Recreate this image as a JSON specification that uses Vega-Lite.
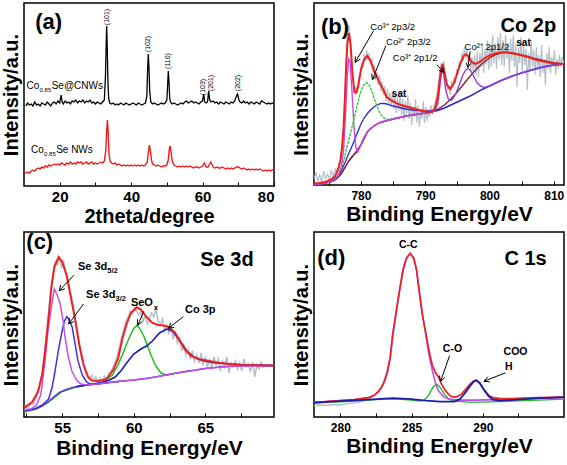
{
"$schema": "https://vega.github.io/schema/vega-lite/v6.json",
"padding": {"left": 0, "top": 2, "right": 0, "bottom": 0},
"columns": 2,
"spacing": {"row": 3, "column": 14},
"config": {
  "view": {"stroke": "#000", "strokeWidth": 1.5},
  "axis": {"grid": false, "domain": false, "tickColor": "#000", "labelColor": "#000", "titleColor": "#000", "labelFont": "Liberation Sans", "titleFont": "Liberation Sans", "labelFontWeight": "bold", "titleFontWeight": "bold", "titleFontSize": 20},
  "text": {"font": "Liberation Sans", "color": "#000"}
},
"datasets": {
"a": [
{"s":"k","x":10.5,"y":80},{"s":"k","x":11,"y":83},{"s":"k","x":11.5,"y":81},{"s":"k","x":12,"y":82},{"s":"k","x":12.5,"y":80},{"s":"k","x":13,"y":84},{"s":"k","x":13.5,"y":81},{"s":"k","x":14,"y":82},{"s":"k","x":14.5,"y":80},{"s":"k","x":15,"y":83},{"s":"k","x":15.5,"y":82},{"s":"k","x":16,"y":81},{"s":"k","x":16.5,"y":84},{"s":"k","x":17,"y":82},{"s":"k","x":17.5,"y":80},{"s":"k","x":18,"y":83},{"s":"k","x":18.5,"y":84},{"s":"k","x":19,"y":82},{"s":"k","x":19.5,"y":85},{"s":"k","x":20,"y":83},{"s":"k","x":20.4,"y":91},{"s":"k","x":20.7,"y":84},{"s":"k","x":21,"y":82},{"s":"k","x":21.5,"y":85},{"s":"k","x":22,"y":83},{"s":"k","x":22.5,"y":84},{"s":"k","x":23,"y":82},{"s":"k","x":23.5,"y":85},{"s":"k","x":24,"y":84},{"s":"k","x":24.5,"y":86},{"s":"k","x":25,"y":83},{"s":"k","x":25.5,"y":85},{"s":"k","x":26,"y":84},{"s":"k","x":26.5,"y":86},{"s":"k","x":27,"y":83},{"s":"k","x":27.5,"y":85},{"s":"k","x":28,"y":84},{"s":"k","x":28.5,"y":86},{"s":"k","x":29,"y":83},{"s":"k","x":29.5,"y":84},{"s":"k","x":30,"y":82},{"s":"k","x":30.5,"y":84},{"s":"k","x":31,"y":83},{"s":"k","x":31.5,"y":82},{"s":"k","x":32,"y":84},{"s":"k","x":32.5,"y":86},{"s":"k","x":32.8,"y":109},{"s":"k","x":33.0,"y":140},{"s":"k","x":33.15,"y":160},{"s":"k","x":33.3,"y":140},{"s":"k","x":33.5,"y":105},{"s":"k","x":33.7,"y":88},{"s":"k","x":34,"y":83},{"s":"k","x":34.5,"y":82},{"s":"k","x":35,"y":83},{"s":"k","x":35.5,"y":81},{"s":"k","x":36,"y":82},{"s":"k","x":36.5,"y":81},{"s":"k","x":37,"y":83},{"s":"k","x":37.5,"y":82},{"s":"k","x":38,"y":81},{"s":"k","x":38.5,"y":83},{"s":"k","x":39,"y":82},{"s":"k","x":39.5,"y":81},{"s":"k","x":40,"y":82},{"s":"k","x":40.5,"y":83},{"s":"k","x":41,"y":82},{"s":"k","x":41.5,"y":81},{"s":"k","x":42,"y":83},{"s":"k","x":42.5,"y":82},{"s":"k","x":43,"y":81},{"s":"k","x":43.5,"y":82},{"s":"k","x":44,"y":83},{"s":"k","x":44.4,"y":90},{"s":"k","x":44.6,"y":115},{"s":"k","x":44.8,"y":132},{"s":"k","x":45.0,"y":118},{"s":"k","x":45.2,"y":95},{"s":"k","x":45.5,"y":84},{"s":"k","x":46,"y":82},{"s":"k","x":46.5,"y":83},{"s":"k","x":47,"y":82},{"s":"k","x":47.5,"y":81},{"s":"k","x":48,"y":82},{"s":"k","x":48.5,"y":83},{"s":"k","x":49,"y":82},{"s":"k","x":49.5,"y":83},{"s":"k","x":50,"y":86},{"s":"k","x":50.2,"y":100},{"s":"k","x":50.4,"y":115},{"s":"k","x":50.6,"y":104},{"s":"k","x":50.8,"y":88},{"s":"k","x":51,"y":84},{"s":"k","x":51.5,"y":82},{"s":"k","x":52,"y":83},{"s":"k","x":52.5,"y":82},{"s":"k","x":53,"y":81},{"s":"k","x":53.5,"y":82},{"s":"k","x":54,"y":83},{"s":"k","x":54.5,"y":82},{"s":"k","x":55,"y":84},{"s":"k","x":55.5,"y":85},{"s":"k","x":56,"y":83},{"s":"k","x":56.5,"y":84},{"s":"k","x":57,"y":85},{"s":"k","x":57.5,"y":83},{"s":"k","x":58,"y":84},{"s":"k","x":58.5,"y":83},{"s":"k","x":59,"y":82},{"s":"k","x":59.5,"y":84},{"s":"k","x":60,"y":85},{"s":"k","x":60.3,"y":92},{"s":"k","x":60.6,"y":84},{"s":"k","x":61,"y":83},{"s":"k","x":61.4,"y":84},{"s":"k","x":61.7,"y":95},{"s":"k","x":62.0,"y":86},{"s":"k","x":62.4,"y":84},{"s":"k","x":63,"y":85},{"s":"k","x":63.5,"y":83},{"s":"k","x":64,"y":84},{"s":"k","x":64.5,"y":82},{"s":"k","x":65,"y":84},{"s":"k","x":65.5,"y":83},{"s":"k","x":66,"y":82},{"s":"k","x":66.5,"y":84},{"s":"k","x":67,"y":83},{"s":"k","x":67.5,"y":82},{"s":"k","x":68,"y":84},{"s":"k","x":68.5,"y":83},{"s":"k","x":69,"y":85},{"s":"k","x":69.5,"y":90},{"s":"k","x":69.8,"y":92},{"s":"k","x":70.2,"y":86},{"s":"k","x":70.5,"y":84},{"s":"k","x":71,"y":83},{"s":"k","x":71.5,"y":85},{"s":"k","x":72,"y":83},{"s":"k","x":72.5,"y":84},{"s":"k","x":73,"y":82},{"s":"k","x":73.5,"y":84},{"s":"k","x":74,"y":83},{"s":"k","x":74.5,"y":82},{"s":"k","x":75,"y":84},{"s":"k","x":75.5,"y":83},{"s":"k","x":76,"y":82},{"s":"k","x":76.5,"y":85},{"s":"k","x":77,"y":84},{"s":"k","x":77.5,"y":83},{"s":"k","x":78,"y":82},{"s":"k","x":78.5,"y":83},{"s":"k","x":79,"y":82},{"s":"k","x":79.5,"y":83},{"s":"k","x":80,"y":82},
{"s":"r","x":10,"y":12},{"s":"r","x":10.5,"y":13},{"s":"r","x":11,"y":14},{"s":"r","x":11.5,"y":13},{"s":"r","x":12,"y":15},{"s":"r","x":12.5,"y":16},{"s":"r","x":13,"y":15},{"s":"r","x":13.5,"y":17},{"s":"r","x":14,"y":18},{"s":"r","x":14.5,"y":17},{"s":"r","x":15,"y":19},{"s":"r","x":15.5,"y":18},{"s":"r","x":16,"y":20},{"s":"r","x":16.5,"y":19},{"s":"r","x":17,"y":21},{"s":"r","x":17.5,"y":20},{"s":"r","x":18,"y":21},{"s":"r","x":18.5,"y":22},{"s":"r","x":19,"y":21},{"s":"r","x":19.5,"y":22},{"s":"r","x":20,"y":21},{"s":"r","x":20.5,"y":23},{"s":"r","x":21,"y":22},{"s":"r","x":21.5,"y":21},{"s":"r","x":22,"y":23},{"s":"r","x":22.5,"y":22},{"s":"r","x":23,"y":24},{"s":"r","x":23.5,"y":22},{"s":"r","x":24,"y":23},{"s":"r","x":24.5,"y":22},{"s":"r","x":25,"y":24},{"s":"r","x":25.5,"y":23},{"s":"r","x":26,"y":24},{"s":"r","x":26.5,"y":22},{"s":"r","x":27,"y":23},{"s":"r","x":27.5,"y":24},{"s":"r","x":28,"y":22},{"s":"r","x":28.5,"y":23},{"s":"r","x":29,"y":24},{"s":"r","x":29.5,"y":22},{"s":"r","x":30,"y":23},{"s":"r","x":30.5,"y":22},{"s":"r","x":31,"y":23},{"s":"r","x":31.5,"y":24},{"s":"r","x":32,"y":23},{"s":"r","x":32.5,"y":25},{"s":"r","x":32.9,"y":35},{"s":"r","x":33.15,"y":55},{"s":"r","x":33.35,"y":66},{"s":"r","x":33.55,"y":55},{"s":"r","x":33.8,"y":32},{"s":"r","x":34.1,"y":25},{"s":"r","x":34.5,"y":23},{"s":"r","x":35,"y":22},{"s":"r","x":35.5,"y":23},{"s":"r","x":36,"y":21},{"s":"r","x":36.5,"y":22},{"s":"r","x":37,"y":21},{"s":"r","x":37.5,"y":20},{"s":"r","x":38,"y":21},{"s":"r","x":38.5,"y":20},{"s":"r","x":39,"y":21},{"s":"r","x":39.5,"y":20},{"s":"r","x":40,"y":21},{"s":"r","x":40.5,"y":20},{"s":"r","x":41,"y":21},{"s":"r","x":41.5,"y":20},{"s":"r","x":42,"y":21},{"s":"r","x":42.5,"y":20},{"s":"r","x":43,"y":21},{"s":"r","x":43.5,"y":20},{"s":"r","x":44,"y":21},{"s":"r","x":44.5,"y":24},{"s":"r","x":44.8,"y":33},{"s":"r","x":45.1,"y":41},{"s":"r","x":45.4,"y":35},{"s":"r","x":45.7,"y":26},{"s":"r","x":46,"y":22},{"s":"r","x":46.5,"y":21},{"s":"r","x":47,"y":20},{"s":"r","x":47.5,"y":21},{"s":"r","x":48,"y":20},{"s":"r","x":48.5,"y":19},{"s":"r","x":49,"y":20},{"s":"r","x":49.5,"y":20},{"s":"r","x":50,"y":21},{"s":"r","x":50.4,"y":26},{"s":"r","x":50.7,"y":37},{"s":"r","x":50.95,"y":40},{"s":"r","x":51.2,"y":33},{"s":"r","x":51.5,"y":25},{"s":"r","x":52,"y":21},{"s":"r","x":52.5,"y":20},{"s":"r","x":53,"y":19},{"s":"r","x":53.5,"y":20},{"s":"r","x":54,"y":19},{"s":"r","x":54.5,"y":20},{"s":"r","x":55,"y":19},{"s":"r","x":55.5,"y":20},{"s":"r","x":56,"y":19},{"s":"r","x":56.5,"y":20},{"s":"r","x":57,"y":19},{"s":"r","x":57.5,"y":18},{"s":"r","x":58,"y":19},{"s":"r","x":58.5,"y":19},{"s":"r","x":59,"y":18},{"s":"r","x":59.5,"y":19},{"s":"r","x":60,"y":20},{"s":"r","x":60.5,"y":23},{"s":"r","x":61,"y":19},{"s":"r","x":61.5,"y":19},{"s":"r","x":62,"y":22},{"s":"r","x":62.3,"y":24},{"s":"r","x":62.7,"y":21},{"s":"r","x":63,"y":19},{"s":"r","x":63.5,"y":18},{"s":"r","x":64,"y":19},{"s":"r","x":64.5,"y":18},{"s":"r","x":65,"y":18},{"s":"r","x":65.5,"y":19},{"s":"r","x":66,"y":18},{"s":"r","x":66.5,"y":17},{"s":"r","x":67,"y":18},{"s":"r","x":67.5,"y":17},{"s":"r","x":68,"y":18},{"s":"r","x":68.5,"y":17},{"s":"r","x":69,"y":18},{"s":"r","x":69.5,"y":19},{"s":"r","x":70,"y":19},{"s":"r","x":70.5,"y":18},{"s":"r","x":71,"y":17},{"s":"r","x":71.5,"y":18},{"s":"r","x":72,"y":17},{"s":"r","x":72.5,"y":16},{"s":"r","x":73,"y":17},{"s":"r","x":73.5,"y":16},{"s":"r","x":74,"y":17},{"s":"r","x":74.5,"y":16},{"s":"r","x":75,"y":17},{"s":"r","x":75.5,"y":16},{"s":"r","x":76,"y":17},{"s":"r","x":76.5,"y":16},{"s":"r","x":77,"y":15},{"s":"r","x":77.5,"y":16},{"s":"r","x":78,"y":15},{"s":"r","x":78.5,"y":16},{"s":"r","x":79,"y":15},{"s":"r","x":79.5,"y":16},{"s":"r","x":80,"y":16}
],
"b": [
{"s":"raw","x":772.7,"y":6},{"s":"raw","x":773.0,"y":12},{"s":"raw","x":773.3,"y":4},{"s":"raw","x":773.6,"y":10},{"s":"raw","x":773.9,"y":3},{"s":"raw","x":774.2,"y":14},{"s":"raw","x":774.5,"y":6},{"s":"raw","x":774.8,"y":11},{"s":"raw","x":775.1,"y":5},{"s":"raw","x":775.4,"y":15},{"s":"raw","x":775.7,"y":8},{"s":"raw","x":776.0,"y":16},{"s":"raw","x":776.3,"y":11},{"s":"raw","x":776.6,"y":22},{"s":"raw","x":776.9,"y":27},{"s":"raw","x":777.1,"y":45},{"s":"raw","x":777.3,"y":58},{"s":"raw","x":777.5,"y":90},{"s":"raw","x":777.7,"y":125},{"s":"raw","x":777.9,"y":150},{"s":"raw","x":778.1,"y":160},{"s":"raw","x":778.3,"y":148},{"s":"raw","x":778.5,"y":128},{"s":"raw","x":778.7,"y":112},{"s":"raw","x":778.9,"y":97},{"s":"raw","x":779.1,"y":90},{"s":"raw","x":779.3,"y":98},{"s":"raw","x":779.5,"y":94},{"s":"raw","x":779.7,"y":108},{"s":"raw","x":779.9,"y":112},{"s":"raw","x":780.1,"y":122},{"s":"raw","x":780.3,"y":117},{"s":"raw","x":780.5,"y":131},{"s":"raw","x":780.7,"y":124},{"s":"raw","x":780.9,"y":135},{"s":"raw","x":781.1,"y":125},{"s":"raw","x":781.3,"y":132},{"s":"raw","x":781.5,"y":120},{"s":"raw","x":781.7,"y":127},{"s":"raw","x":781.9,"y":112},{"s":"raw","x":782.1,"y":120},{"s":"raw","x":782.3,"y":105},{"s":"raw","x":782.5,"y":113},{"s":"raw","x":782.7,"y":100},{"s":"raw","x":782.9,"y":110},{"s":"raw","x":783.1,"y":94},{"s":"raw","x":783.3,"y":104},{"s":"raw","x":783.5,"y":90},{"s":"raw","x":783.7,"y":99},{"s":"raw","x":783.9,"y":84},{"s":"raw","x":784.1,"y":96},{"s":"raw","x":784.3,"y":80},{"s":"raw","x":784.5,"y":92},{"s":"raw","x":784.7,"y":78},{"s":"raw","x":784.9,"y":93},{"s":"raw","x":785.1,"y":76},{"s":"raw","x":785.3,"y":90},{"s":"raw","x":785.5,"y":72},{"s":"raw","x":785.7,"y":88},{"s":"raw","x":785.9,"y":74},{"s":"raw","x":786.1,"y":92},{"s":"raw","x":786.3,"y":70},{"s":"raw","x":786.5,"y":86},{"s":"raw","x":786.7,"y":64},{"s":"raw","x":786.9,"y":84},{"s":"raw","x":787.1,"y":70},{"s":"raw","x":787.3,"y":90},{"s":"raw","x":787.5,"y":66},{"s":"raw","x":787.7,"y":82},{"s":"raw","x":787.9,"y":60},{"s":"raw","x":788.1,"y":78},{"s":"raw","x":788.3,"y":68},{"s":"raw","x":788.5,"y":86},{"s":"raw","x":788.7,"y":62},{"s":"raw","x":788.9,"y":80},{"s":"raw","x":789.1,"y":58},{"s":"raw","x":789.3,"y":76},{"s":"raw","x":789.5,"y":66},{"s":"raw","x":789.7,"y":84},{"s":"raw","x":789.9,"y":62},{"s":"raw","x":790.1,"y":78},{"s":"raw","x":790.3,"y":64},{"s":"raw","x":790.5,"y":76},{"s":"raw","x":790.7,"y":68},{"s":"raw","x":790.9,"y":80},{"s":"raw","x":791.1,"y":70},{"s":"raw","x":791.3,"y":78},{"s":"raw","x":791.5,"y":80},{"s":"raw","x":791.7,"y":86},{"s":"raw","x":791.9,"y":95},{"s":"raw","x":792.1,"y":104},{"s":"raw","x":792.3,"y":115},{"s":"raw","x":792.5,"y":122},{"s":"raw","x":792.7,"y":118},{"s":"raw","x":792.9,"y":124},{"s":"raw","x":793.1,"y":108},{"s":"raw","x":793.3,"y":102},{"s":"raw","x":793.5,"y":95},{"s":"raw","x":793.7,"y":100},{"s":"raw","x":793.9,"y":90},{"s":"raw","x":794.1,"y":104},{"s":"raw","x":794.3,"y":98},{"s":"raw","x":794.5,"y":108},{"s":"raw","x":794.7,"y":102},{"s":"raw","x":794.9,"y":116},{"s":"raw","x":795.1,"y":110},{"s":"raw","x":795.3,"y":124},{"s":"raw","x":795.5,"y":118},{"s":"raw","x":795.7,"y":132},{"s":"raw","x":795.9,"y":124},{"s":"raw","x":796.1,"y":138},{"s":"raw","x":796.3,"y":127},{"s":"raw","x":796.5,"y":136},{"s":"raw","x":796.7,"y":122},{"s":"raw","x":796.9,"y":132},{"s":"raw","x":797.1,"y":115},{"s":"raw","x":797.3,"y":128},{"s":"raw","x":797.5,"y":112},{"s":"raw","x":797.7,"y":130},{"s":"raw","x":797.9,"y":110},{"s":"raw","x":798.1,"y":134},{"s":"raw","x":798.3,"y":108},{"s":"raw","x":798.5,"y":132},{"s":"raw","x":798.7,"y":118},{"s":"raw","x":798.9,"y":140},{"s":"raw","x":799.1,"y":112},{"s":"raw","x":799.3,"y":136},{"s":"raw","x":799.5,"y":120},{"s":"raw","x":799.7,"y":145},{"s":"raw","x":799.9,"y":115},{"s":"raw","x":800.1,"y":140},{"s":"raw","x":800.3,"y":118},{"s":"raw","x":800.5,"y":150},{"s":"raw","x":800.7,"y":122},{"s":"raw","x":800.9,"y":142},{"s":"raw","x":801.1,"y":116},{"s":"raw","x":801.3,"y":148},{"s":"raw","x":801.5,"y":125},{"s":"raw","x":801.7,"y":152},{"s":"raw","x":801.9,"y":120},{"s":"raw","x":802.1,"y":145},{"s":"raw","x":802.3,"y":118},{"s":"raw","x":802.5,"y":150},{"s":"raw","x":802.7,"y":126},{"s":"raw","x":802.9,"y":142},{"s":"raw","x":803.1,"y":112},{"s":"raw","x":803.3,"y":146},{"s":"raw","x":803.5,"y":124},{"s":"raw","x":803.7,"y":150},{"s":"raw","x":803.9,"y":118},{"s":"raw","x":804.1,"y":140},{"s":"raw","x":804.3,"y":98},{"s":"raw","x":804.5,"y":138},{"s":"raw","x":804.7,"y":122},{"s":"raw","x":804.9,"y":148},{"s":"raw","x":805.1,"y":112},{"s":"raw","x":805.3,"y":140},{"s":"raw","x":805.5,"y":120},{"s":"raw","x":805.7,"y":136},{"s":"raw","x":805.9,"y":95},{"s":"raw","x":806.1,"y":132},{"s":"raw","x":806.3,"y":115},{"s":"raw","x":806.5,"y":145},{"s":"raw","x":806.7,"y":118},{"s":"raw","x":806.9,"y":135},{"s":"raw","x":807.1,"y":110},{"s":"raw","x":807.3,"y":138},{"s":"raw","x":807.5,"y":115},{"s":"raw","x":807.7,"y":130},{"s":"raw","x":807.9,"y":108},{"s":"raw","x":808.1,"y":140},{"s":"raw","x":808.3,"y":112},{"s":"raw","x":808.5,"y":126},{"s":"raw","x":808.7,"y":100},{"s":"raw","x":808.9,"y":132},{"s":"raw","x":809.1,"y":116},{"s":"raw","x":809.3,"y":138},{"s":"raw","x":809.5,"y":112},{"s":"raw","x":809.7,"y":128},{"s":"raw","x":809.9,"y":118},{"s":"raw","x":810.1,"y":135},{"s":"raw","x":810.3,"y":110},{"s":"raw","x":810.5,"y":126},{"s":"raw","x":810.7,"y":116},{"s":"raw","x":810.9,"y":130},{"s":"raw","x":811.1,"y":118},{"s":"raw","x":811.3,"y":128},{"s":"raw","x":811.6,"y":120},
{"s":"bg","x":772.7,"y":0.5},{"s":"bg","x":773.5,"y":1},{"s":"bg","x":774.5,"y":2},{"s":"bg","x":775.5,"y":3.5},{"s":"bg","x":776,"y":5},{"s":"bg","x":776.5,"y":8},{"s":"bg","x":777,"y":12},{"s":"bg","x":777.5,"y":17},{"s":"bg","x":778,"y":23},{"s":"bg","x":778.5,"y":27.5},{"s":"bg","x":779,"y":31},{"s":"bg","x":779.5,"y":34},{"s":"bg","x":780,"y":40},{"s":"bg","x":780.5,"y":47},{"s":"bg","x":781,"y":53},{"s":"bg","x":781.5,"y":56.5},{"s":"bg","x":782,"y":59},{"s":"bg","x":782.5,"y":61},{"s":"bg","x":783,"y":62.5},{"s":"bg","x":784,"y":64.5},{"s":"bg","x":785,"y":66},{"s":"bg","x":786,"y":67.5},{"s":"bg","x":787,"y":69},{"s":"bg","x":788,"y":70},{"s":"bg","x":789,"y":71},{"s":"bg","x":790,"y":72},{"s":"bg","x":791,"y":73},{"s":"bg","x":792,"y":74.5},{"s":"bg","x":793,"y":77},{"s":"bg","x":794,"y":80},{"s":"bg","x":795,"y":83},{"s":"bg","x":796,"y":86},{"s":"bg","x":797,"y":89},{"s":"bg","x":798,"y":92.5},{"s":"bg","x":799,"y":96},{"s":"bg","x":800,"y":99},{"s":"bg","x":801,"y":102},{"s":"bg","x":802,"y":105},{"s":"bg","x":803,"y":107.5},{"s":"bg","x":804,"y":110},{"s":"bg","x":805,"y":112},{"s":"bg","x":806,"y":114},{"s":"bg","x":807,"y":116},{"s":"bg","x":808,"y":117.5},{"s":"bg","x":809,"y":119},{"s":"bg","x":810,"y":120},{"s":"bg","x":811.6,"y":121},
{"s":"brn","x":772.7,"y":0.5},{"s":"brn","x":775.5,"y":3.5},{"s":"brn","x":776,"y":5},{"s":"brn","x":777,"y":12},{"s":"brn","x":778,"y":23},{"s":"brn","x":779,"y":31},{"s":"brn","x":780,"y":40},{"s":"brn","x":781,"y":53},{"s":"brn","x":782,"y":59},{"s":"brn","x":783,"y":62.5},{"s":"brn","x":785,"y":66},{"s":"brn","x":787,"y":69},{"s":"brn","x":789,"y":71},{"s":"brn","x":791,"y":73},{"s":"brn","x":792,"y":76},{"s":"brn","x":793,"y":80},{"s":"brn","x":794,"y":86},{"s":"brn","x":795,"y":93},{"s":"brn","x":796,"y":101},{"s":"brn","x":797,"y":109},{"s":"brn","x":798,"y":116},{"s":"brn","x":799,"y":122},{"s":"brn","x":800,"y":127},{"s":"brn","x":801,"y":130.5},{"s":"brn","x":802,"y":132.3},{"s":"brn","x":802.6,"y":132.6},{"s":"brn","x":803,"y":132.5},{"s":"brn","x":804,"y":131.5},{"s":"brn","x":805,"y":130},{"s":"brn","x":806,"y":128.5},{"s":"brn","x":807,"y":126.5},{"s":"brn","x":808,"y":125},{"s":"brn","x":809,"y":123.5},{"s":"brn","x":810,"y":122},{"s":"brn","x":811.6,"y":121},
{"s":"blu","x":772.7,"y":1},{"s":"blu","x":773.5,"y":1.5},{"s":"blu","x":774.5,"y":3},{"s":"blu","x":775.5,"y":5},{"s":"blu","x":776,"y":7},{"s":"blu","x":776.5,"y":10},{"s":"blu","x":777,"y":15},{"s":"blu","x":777.5,"y":22},{"s":"blu","x":778,"y":30},{"s":"blu","x":778.5,"y":37},{"s":"blu","x":779,"y":45},{"s":"blu","x":779.5,"y":53},{"s":"blu","x":780,"y":61},{"s":"blu","x":780.5,"y":67},{"s":"blu","x":781,"y":71.5},{"s":"blu","x":781.5,"y":75},{"s":"blu","x":782,"y":78},{"s":"blu","x":782.5,"y":80},{"s":"blu","x":783,"y":81.3},{"s":"blu","x":783.5,"y":81.6},{"s":"blu","x":784,"y":81},{"s":"blu","x":785,"y":79},{"s":"blu","x":786,"y":77.5},{"s":"blu","x":787,"y":76},{"s":"blu","x":788,"y":75},{"s":"blu","x":789,"y":74.5},{"s":"blu","x":790,"y":74},{"s":"blu","x":791,"y":74},{"s":"blu","x":792,"y":75},{"s":"blu","x":793,"y":77},{"s":"blu","x":794,"y":80},{"s":"blu","x":795,"y":83},{"s":"blu","x":796,"y":86},{"s":"blu","x":797,"y":89},{"s":"blu","x":798,"y":92.5},{"s":"blu","x":799,"y":96},{"s":"blu","x":800,"y":99},{"s":"blu","x":802,"y":105},{"s":"blu","x":804,"y":110},{"s":"blu","x":806,"y":114},{"s":"blu","x":808,"y":117.5},{"s":"blu","x":810,"y":120},{"s":"blu","x":811.6,"y":121},
{"s":"grn","x":772.7,"y":0.5},{"s":"grn","x":774.5,"y":2},{"s":"grn","x":775.5,"y":3.5},{"s":"grn","x":776,"y":6},{"s":"grn","x":776.5,"y":10},{"s":"grn","x":777,"y":17},{"s":"grn","x":777.3,"y":24},{"s":"grn","x":777.6,"y":32},{"s":"grn","x":778,"y":42},{"s":"grn","x":778.5,"y":55},{"s":"grn","x":779,"y":68},{"s":"grn","x":779.5,"y":82},{"s":"grn","x":780,"y":94},{"s":"grn","x":780.5,"y":100.5},{"s":"grn","x":780.9,"y":102.6},{"s":"grn","x":781.3,"y":100},{"s":"grn","x":781.8,"y":92},{"s":"grn","x":782.3,"y":82},{"s":"grn","x":782.8,"y":74},{"s":"grn","x":783.3,"y":68.5},{"s":"grn","x":783.8,"y":66},{"s":"grn","x":784.5,"y":65.5},{"s":"grn","x":785,"y":66},{"s":"grn","x":786,"y":67.5},{"s":"grn","x":788,"y":70},{"s":"grn","x":790,"y":72},
{"s":"mag","x":772.7,"y":0.5},{"s":"mag","x":773.5,"y":1},{"s":"mag","x":774.5,"y":2},{"s":"mag","x":775.5,"y":4},{"s":"mag","x":776,"y":6},{"s":"mag","x":776.5,"y":10},{"s":"mag","x":777,"y":20},{"s":"mag","x":777.3,"y":35},{"s":"mag","x":777.6,"y":70},{"s":"mag","x":777.9,"y":110},{"s":"mag","x":778.1,"y":126},{"s":"mag","x":778.3,"y":124},{"s":"mag","x":778.6,"y":95},{"s":"mag","x":778.9,"y":60},{"s":"mag","x":779.2,"y":38},{"s":"mag","x":779.5,"y":33},{"s":"mag","x":779.8,"y":37},{"s":"mag","x":780.2,"y":44},{"s":"mag","x":780.5,"y":48},{"s":"mag","x":781,"y":53},{"s":"mag","x":781.5,"y":56},{"s":"mag","x":782,"y":59},{"s":"mag","x":782.5,"y":61},{"s":"mag","x":783,"y":62.5},{"s":"mag","x":784,"y":64.5},{"s":"mag","x":785,"y":66},{"s":"mag","x":786,"y":67.5},{"s":"mag","x":787,"y":69},{"s":"mag","x":788,"y":70},{"s":"mag","x":789,"y":71},{"s":"mag","x":790,"y":72},{"s":"mag","x":791,"y":73},
{"s":"vio","x":790,"y":72},{"s":"vio","x":791,"y":73},{"s":"vio","x":791.5,"y":74},{"s":"vio","x":792,"y":82},{"s":"vio","x":792.3,"y":100},{"s":"vio","x":792.6,"y":117},{"s":"vio","x":792.9,"y":110},{"s":"vio","x":793.2,"y":95},{"s":"vio","x":793.6,"y":86},{"s":"vio","x":793.9,"y":84.3},{"s":"vio","x":794.3,"y":86},{"s":"vio","x":794.8,"y":92},{"s":"vio","x":795.3,"y":100},{"s":"vio","x":795.8,"y":109},{"s":"vio","x":796.3,"y":115},{"s":"vio","x":796.7,"y":116.5},{"s":"vio","x":797.1,"y":114},{"s":"vio","x":797.6,"y":108},{"s":"vio","x":798.1,"y":102},{"s":"vio","x":798.6,"y":99},{"s":"vio","x":799.2,"y":97.5},{"s":"vio","x":800,"y":99},{"s":"vio","x":801,"y":102},{"s":"vio","x":802,"y":105},{"s":"vio","x":803,"y":107.5},{"s":"vio","x":804,"y":110},{"s":"vio","x":805,"y":112},{"s":"vio","x":806,"y":114},{"s":"vio","x":807,"y":116},{"s":"vio","x":808,"y":117.5},{"s":"vio","x":809,"y":119},{"s":"vio","x":810,"y":120},{"s":"vio","x":811.6,"y":121},
{"s":"red","x":772.7,"y":1.5},{"s":"red","x":773.5,"y":2},{"s":"red","x":774.5,"y":3},{"s":"red","x":775.5,"y":6},{"s":"red","x":776,"y":9},{"s":"red","x":776.5,"y":17},{"s":"red","x":776.8,"y":24},{"s":"red","x":777.1,"y":40},{"s":"red","x":777.3,"y":57},{"s":"red","x":777.5,"y":85},{"s":"red","x":777.7,"y":118},{"s":"red","x":777.9,"y":142},{"s":"red","x":778.15,"y":152},{"s":"red","x":778.4,"y":140},{"s":"red","x":778.7,"y":110},{"s":"red","x":779.0,"y":93},{"s":"red","x":779.3,"y":92.5},{"s":"red","x":779.6,"y":100},{"s":"red","x":780,"y":115},{"s":"red","x":780.5,"y":125.5},{"s":"red","x":781,"y":129},{"s":"red","x":781.5,"y":124},{"s":"red","x":782,"y":115},{"s":"red","x":782.5,"y":108},{"s":"red","x":783,"y":101},{"s":"red","x":783.5,"y":95},{"s":"red","x":784,"y":88},{"s":"red","x":784.8,"y":84.3},{"s":"red","x":785.5,"y":82},{"s":"red","x":786,"y":80.5},{"s":"red","x":787,"y":78.5},{"s":"red","x":788,"y":77},{"s":"red","x":789,"y":75},{"s":"red","x":790,"y":74},{"s":"red","x":790.5,"y":73},{"s":"red","x":791,"y":73.5},{"s":"red","x":791.5,"y":76},{"s":"red","x":792,"y":90},{"s":"red","x":792.4,"y":112},{"s":"red","x":792.7,"y":121},{"s":"red","x":793,"y":113},{"s":"red","x":793.4,"y":100},{"s":"red","x":793.9,"y":96},{"s":"red","x":794.5,"y":102},{"s":"red","x":795,"y":112},{"s":"red","x":795.5,"y":122},{"s":"red","x":796,"y":129},{"s":"red","x":796.3,"y":130.5},{"s":"red","x":796.7,"y":129},{"s":"red","x":797.2,"y":123},{"s":"red","x":797.8,"y":121},{"s":"red","x":798.5,"y":123},{"s":"red","x":799,"y":125.5},{"s":"red","x":800,"y":129.5},{"s":"red","x":801,"y":131.8},{"s":"red","x":802,"y":132.8},{"s":"red","x":802.6,"y":132.8},{"s":"red","x":803.5,"y":131.8},{"s":"red","x":804.5,"y":130.5},{"s":"red","x":805.5,"y":128.8},{"s":"red","x":806.5,"y":127},{"s":"red","x":807.4,"y":125},{"s":"red","x":808.5,"y":123.5},{"s":"red","x":809.5,"y":122},{"s":"red","x":810.5,"y":121.5},{"s":"red","x":811.6,"y":121}
],
"c": [
{"s":"raw","x":52.4,"y":12},{"s":"raw","x":52.6,"y":8},{"s":"raw","x":52.8,"y":14},{"s":"raw","x":53.0,"y":13},{"s":"raw","x":53.2,"y":20},{"s":"raw","x":53.4,"y":30},{"s":"raw","x":53.6,"y":45},{"s":"raw","x":53.8,"y":70},{"s":"raw","x":54.0,"y":98},{"s":"raw","x":54.2,"y":126},{"s":"raw","x":54.35,"y":143},{"s":"raw","x":54.5,"y":155},{"s":"raw","x":54.65,"y":152},{"s":"raw","x":54.8,"y":158},{"s":"raw","x":54.95,"y":150},{"s":"raw","x":55.1,"y":156},{"s":"raw","x":55.25,"y":145},{"s":"raw","x":55.4,"y":138},{"s":"raw","x":55.55,"y":127},{"s":"raw","x":55.7,"y":116},{"s":"raw","x":55.85,"y":104},{"s":"raw","x":56.0,"y":88},{"s":"raw","x":56.15,"y":75},{"s":"raw","x":56.3,"y":62},{"s":"raw","x":56.45,"y":54},{"s":"raw","x":56.6,"y":46},{"s":"raw","x":56.75,"y":44},{"s":"raw","x":56.9,"y":38},{"s":"raw","x":57.05,"y":42},{"s":"raw","x":57.2,"y":36},{"s":"raw","x":57.35,"y":40},{"s":"raw","x":57.5,"y":34},{"s":"raw","x":57.65,"y":39},{"s":"raw","x":57.8,"y":36},{"s":"raw","x":57.95,"y":41},{"s":"raw","x":58.1,"y":38},{"s":"raw","x":58.25,"y":44},{"s":"raw","x":58.4,"y":45},{"s":"raw","x":58.55,"y":50},{"s":"raw","x":58.7,"y":55},{"s":"raw","x":58.85,"y":62},{"s":"raw","x":59.0,"y":70},{"s":"raw","x":59.15,"y":80},{"s":"raw","x":59.3,"y":88},{"s":"raw","x":59.45,"y":96},{"s":"raw","x":59.6,"y":100},{"s":"raw","x":59.75,"y":106},{"s":"raw","x":59.9,"y":103},{"s":"raw","x":60.05,"y":109},{"s":"raw","x":60.2,"y":106},{"s":"raw","x":60.35,"y":102},{"s":"raw","x":60.5,"y":106},{"s":"raw","x":60.65,"y":96},{"s":"raw","x":60.8,"y":101},{"s":"raw","x":60.95,"y":93},{"s":"raw","x":61.1,"y":98},{"s":"raw","x":61.25,"y":104},{"s":"raw","x":61.4,"y":100},{"s":"raw","x":61.55,"y":108},{"s":"raw","x":61.7,"y":96},{"s":"raw","x":61.85,"y":92},{"s":"raw","x":62.0,"y":98},{"s":"raw","x":62.15,"y":86},{"s":"raw","x":62.3,"y":92},{"s":"raw","x":62.45,"y":84},{"s":"raw","x":62.6,"y":90},{"s":"raw","x":62.75,"y":78},{"s":"raw","x":62.9,"y":86},{"s":"raw","x":63.05,"y":74},{"s":"raw","x":63.2,"y":80},{"s":"raw","x":63.35,"y":66},{"s":"raw","x":63.5,"y":72},{"s":"raw","x":63.65,"y":62},{"s":"raw","x":63.8,"y":68},{"s":"raw","x":63.95,"y":58},{"s":"raw","x":64.1,"y":66},{"s":"raw","x":64.25,"y":56},{"s":"raw","x":64.4,"y":62},{"s":"raw","x":64.55,"y":54},{"s":"raw","x":64.7,"y":64},{"s":"raw","x":64.85,"y":52},{"s":"raw","x":65.0,"y":60},{"s":"raw","x":65.15,"y":50},{"s":"raw","x":65.3,"y":58},{"s":"raw","x":65.45,"y":48},{"s":"raw","x":65.6,"y":60},{"s":"raw","x":65.75,"y":52},{"s":"raw","x":65.9,"y":58},{"s":"raw","x":66.05,"y":46},{"s":"raw","x":66.2,"y":56},{"s":"raw","x":66.35,"y":50},{"s":"raw","x":66.5,"y":60},{"s":"raw","x":66.65,"y":44},{"s":"raw","x":66.8,"y":54},{"s":"raw","x":66.95,"y":50},{"s":"raw","x":67.1,"y":56},{"s":"raw","x":67.25,"y":48},{"s":"raw","x":67.4,"y":54},{"s":"raw","x":67.55,"y":46},{"s":"raw","x":67.7,"y":58},{"s":"raw","x":67.85,"y":50},{"s":"raw","x":68.0,"y":53},{"s":"raw","x":68.15,"y":45},{"s":"raw","x":68.3,"y":55},{"s":"raw","x":68.45,"y":40},{"s":"raw","x":68.6,"y":52},{"s":"raw","x":68.75,"y":48},{"s":"raw","x":68.9,"y":55},{"s":"raw","x":69.05,"y":50},{"s":"raw","x":69.2,"y":52},
{"s":"bg","x":52.33,"y":6},{"s":"bg","x":52.8,"y":7},{"s":"bg","x":53.2,"y":8.5},{"s":"bg","x":53.6,"y":11},{"s":"bg","x":54.0,"y":15},{"s":"bg","x":54.4,"y":20},{"s":"bg","x":54.8,"y":24.5},{"s":"bg","x":55.2,"y":27},{"s":"bg","x":55.7,"y":29.5},{"s":"bg","x":56.3,"y":31},{"s":"bg","x":57,"y":32.5},{"s":"bg","x":57.8,"y":33.5},{"s":"bg","x":58.5,"y":35},{"s":"bg","x":59.2,"y":36},{"s":"bg","x":60,"y":37},{"s":"bg","x":60.9,"y":38.5},{"s":"bg","x":61.5,"y":40},{"s":"bg","x":62.3,"y":42},{"s":"bg","x":63,"y":44},{"s":"bg","x":63.9,"y":46},{"s":"bg","x":65,"y":48.5},{"s":"bg","x":66,"y":50},{"s":"bg","x":67,"y":51},{"s":"bg","x":68,"y":51.4},{"s":"bg","x":69.8,"y":51.5},
{"s":"grn","x":52.33,"y":5},{"s":"grn","x":53.2,"y":8},{"s":"grn","x":54,"y":14.5},{"s":"grn","x":55,"y":25.5},{"s":"grn","x":56,"y":30},{"s":"grn","x":57,"y":32.5},{"s":"grn","x":57.5,"y":33},{"s":"grn","x":58.0,"y":36},{"s":"grn","x":58.5,"y":42},{"s":"grn","x":58.9,"y":52},{"s":"grn","x":59.2,"y":62},{"s":"grn","x":59.5,"y":73},{"s":"grn","x":59.8,"y":83},{"s":"grn","x":60.0,"y":88.5},{"s":"grn","x":60.2,"y":91.4},{"s":"grn","x":60.4,"y":89},{"s":"grn","x":60.7,"y":81},{"s":"grn","x":60.9,"y":73.5},{"s":"grn","x":61.2,"y":62},{"s":"grn","x":61.5,"y":52},{"s":"grn","x":61.9,"y":44},{"s":"grn","x":62.3,"y":42},{"s":"grn","x":63,"y":44},{"s":"grn","x":64,"y":46.5},
{"s":"co","x":56,"y":30.5},{"s":"co","x":57,"y":32.7},{"s":"co","x":57.8,"y":34.5},{"s":"co","x":58.3,"y":37},{"s":"co","x":58.7,"y":40},{"s":"co","x":59.1,"y":46},{"s":"co","x":59.5,"y":54},{"s":"co","x":60,"y":63},{"s":"co","x":60.5,"y":68},{"s":"co","x":60.9,"y":71},{"s":"co","x":61.3,"y":76},{"s":"co","x":61.8,"y":84},{"s":"co","x":62.3,"y":88},{"s":"co","x":62.7,"y":86},{"s":"co","x":63.2,"y":77},{"s":"co","x":63.7,"y":66},{"s":"co","x":64.2,"y":60},{"s":"co","x":64.8,"y":56.5},{"s":"co","x":65.5,"y":54.5},{"s":"co","x":66.7,"y":53},{"s":"co","x":68,"y":52},{"s":"co","x":69.8,"y":51.4},
{"s":"mag","x":52.33,"y":7},{"s":"mag","x":52.8,"y":8},{"s":"mag","x":53.2,"y":12},{"s":"mag","x":53.5,"y":22},{"s":"mag","x":53.8,"y":56},{"s":"mag","x":54.0,"y":85},{"s":"mag","x":54.2,"y":106},{"s":"mag","x":54.45,"y":128},{"s":"mag","x":54.65,"y":122},{"s":"mag","x":54.86,"y":113},{"s":"mag","x":55.05,"y":97},{"s":"mag","x":55.2,"y":80},{"s":"mag","x":55.4,"y":62},{"s":"mag","x":55.67,"y":46},{"s":"mag","x":56.0,"y":37},{"s":"mag","x":56.3,"y":33},{"s":"mag","x":56.7,"y":32},{"s":"mag","x":57.5,"y":33},{"s":"mag","x":58.5,"y":35},{"s":"mag","x":60,"y":37},{"s":"mag","x":61.5,"y":40},{"s":"mag","x":63,"y":44},{"s":"mag","x":65,"y":48.5},{"s":"mag","x":67,"y":51},{"s":"mag","x":69.8,"y":51.5},
{"s":"d32","x":52.33,"y":6},{"s":"d32","x":53.2,"y":9},{"s":"d32","x":53.6,"y":12},{"s":"d32","x":54.05,"y":18},{"s":"d32","x":54.3,"y":30},{"s":"d32","x":54.5,"y":46},{"s":"d32","x":54.75,"y":68},{"s":"d32","x":54.98,"y":85},{"s":"d32","x":55.15,"y":96},{"s":"d32","x":55.33,"y":100.4},{"s":"d32","x":55.5,"y":97},{"s":"d32","x":55.7,"y":89.7},{"s":"d32","x":55.9,"y":73},{"s":"d32","x":56.1,"y":56.4},{"s":"d32","x":56.4,"y":42},{"s":"d32","x":56.7,"y":35},{"s":"d32","x":57.0,"y":32.5},{"s":"d32","x":58,"y":34},{"s":"d32","x":59,"y":35.5},
{"s":"red","x":52.33,"y":9},{"s":"red","x":52.9,"y":15},{"s":"red","x":53.3,"y":25},{"s":"red","x":53.6,"y":42},{"s":"red","x":53.8,"y":65},{"s":"red","x":54.05,"y":100},{"s":"red","x":54.25,"y":130},{"s":"red","x":54.45,"y":150},{"s":"red","x":54.75,"y":160},{"s":"red","x":55.0,"y":155},{"s":"red","x":55.3,"y":142},{"s":"red","x":55.6,"y":120},{"s":"red","x":55.9,"y":98},{"s":"red","x":56.2,"y":72},{"s":"red","x":56.5,"y":52},{"s":"red","x":56.8,"y":40},{"s":"red","x":57.07,"y":36.4},{"s":"red","x":57.5,"y":36},{"s":"red","x":57.9,"y":37},{"s":"red","x":58.2,"y":39.5},{"s":"red","x":58.6,"y":48},{"s":"red","x":58.9,"y":58},{"s":"red","x":59.2,"y":78},{"s":"red","x":59.5,"y":93},{"s":"red","x":59.8,"y":104},{"s":"red","x":60.2,"y":109.7},{"s":"red","x":60.5,"y":107.5},{"s":"red","x":60.9,"y":100},{"s":"red","x":61.3,"y":94},{"s":"red","x":61.7,"y":92},{"s":"red","x":62.1,"y":91.4},{"s":"red","x":62.5,"y":89.7},{"s":"red","x":62.9,"y":84},{"s":"red","x":63.2,"y":76.4},{"s":"red","x":63.6,"y":67},{"s":"red","x":64.0,"y":61},{"s":"red","x":64.5,"y":58},{"s":"red","x":65.1,"y":56.4},{"s":"red","x":65.8,"y":54.5},{"s":"red","x":66.7,"y":53},{"s":"red","x":67.5,"y":52},{"s":"red","x":69.8,"y":51.4}
],
"d": [
{"s":"raw","x":278.15,"y":11},{"s":"raw","x":278.5,"y":12},{"s":"raw","x":279,"y":11.5},{"s":"raw","x":279.5,"y":12.5},{"s":"raw","x":280,"y":12},{"s":"raw","x":280.5,"y":13.5},{"s":"raw","x":281,"y":14},{"s":"raw","x":281.5,"y":15.5},{"s":"raw","x":282,"y":18},{"s":"raw","x":282.5,"y":23},{"s":"raw","x":283,"y":33},{"s":"raw","x":283.5,"y":58},{"s":"raw","x":284,"y":112},{"s":"raw","x":284.5,"y":155},{"s":"raw","x":284.9,"y":165},{"s":"raw","x":285.3,"y":152},{"s":"raw","x":285.7,"y":108},{"s":"raw","x":286.1,"y":76},{"s":"raw","x":286.5,"y":50},{"s":"raw","x":286.9,"y":40},{"s":"raw","x":287.3,"y":28},{"s":"raw","x":287.7,"y":21},{"s":"raw","x":288.1,"y":20},{"s":"raw","x":288.5,"y":23},{"s":"raw","x":288.9,"y":30},{"s":"raw","x":289.3,"y":36},{"s":"raw","x":289.6,"y":37},{"s":"raw","x":290,"y":29},{"s":"raw","x":290.4,"y":22},{"s":"raw","x":290.8,"y":19},{"s":"raw","x":291.5,"y":18},{"s":"raw","x":292.5,"y":18.5},{"s":"raw","x":293.5,"y":19.5},{"s":"raw","x":294.5,"y":19},{"s":"raw","x":295.7,"y":20},
{"s":"grn","x":278.15,"y":14},{"s":"grn","x":281,"y":16},{"s":"grn","x":283,"y":18},{"s":"grn","x":284,"y":18},{"s":"grn","x":285,"y":17},{"s":"grn","x":285.5,"y":16},{"s":"grn","x":285.9,"y":17},{"s":"grn","x":286.2,"y":22},{"s":"grn","x":286.5,"y":30},{"s":"grn","x":286.75,"y":33},{"s":"grn","x":287.0,"y":30},{"s":"grn","x":287.3,"y":23},{"s":"grn","x":287.6,"y":18},{"s":"grn","x":288,"y":16},{"s":"grn","x":289,"y":15},{"s":"grn","x":290,"y":15},{"s":"grn","x":291,"y":15.5},{"s":"grn","x":292,"y":16},{"s":"grn","x":293,"y":16.5},{"s":"grn","x":295.7,"y":18},
{"s":"mag","x":278.15,"y":14.4},{"s":"mag","x":279,"y":15.5},{"s":"mag","x":280,"y":16.5},{"s":"mag","x":281,"y":17.5},{"s":"mag","x":281.5,"y":18.5},{"s":"mag","x":282,"y":19.5},{"s":"mag","x":282.4,"y":22},{"s":"mag","x":282.7,"y":26},{"s":"mag","x":282.9,"y":30},{"s":"mag","x":283.1,"y":36},{"s":"mag","x":283.3,"y":45},{"s":"mag","x":283.5,"y":60},{"s":"mag","x":283.67,"y":82.7},{"s":"mag","x":283.9,"y":104},{"s":"mag","x":284.14,"y":126},{"s":"mag","x":284.4,"y":148},{"s":"mag","x":284.65,"y":160},{"s":"mag","x":284.9,"y":164.4},{"s":"mag","x":285.15,"y":160},{"s":"mag","x":285.35,"y":148},{"s":"mag","x":285.54,"y":126},{"s":"mag","x":285.75,"y":104},{"s":"mag","x":286.0,"y":82.7},{"s":"mag","x":286.2,"y":64},{"s":"mag","x":286.47,"y":46},{"s":"mag","x":286.7,"y":33},{"s":"mag","x":286.9,"y":26},{"s":"mag","x":287.2,"y":21},{"s":"mag","x":287.5,"y":18.5},{"s":"mag","x":287.9,"y":17.5},{"s":"mag","x":288.5,"y":17},{"s":"mag","x":289.5,"y":17},{"s":"mag","x":291,"y":17.5},{"s":"mag","x":293,"y":18.5},{"s":"mag","x":295.7,"y":19.5},
{"s":"blu","x":278.15,"y":14.4},{"s":"blu","x":280,"y":16},{"s":"blu","x":282,"y":17.5},{"s":"blu","x":283.7,"y":19},{"s":"blu","x":285,"y":18},{"s":"blu","x":286,"y":16.5},{"s":"blu","x":287,"y":15.5},{"s":"blu","x":288,"y":15.5},{"s":"blu","x":288.4,"y":18},{"s":"blu","x":288.8,"y":25},{"s":"blu","x":289.1,"y":31},{"s":"blu","x":289.35,"y":35.5},{"s":"blu","x":289.55,"y":36.7},{"s":"blu","x":289.8,"y":34},{"s":"blu","x":290.1,"y":27},{"s":"blu","x":290.4,"y":21},{"s":"blu","x":290.7,"y":17.5},{"s":"blu","x":291.2,"y":16.5},{"s":"blu","x":292,"y":17},{"s":"blu","x":293,"y":18},{"s":"blu","x":294,"y":19},{"s":"blu","x":295.7,"y":20},
{"s":"red","x":278.15,"y":14.4},{"s":"red","x":279,"y":15.5},{"s":"red","x":280,"y":16.5},{"s":"red","x":281,"y":17.5},{"s":"red","x":281.5,"y":18.5},{"s":"red","x":282,"y":19.5},{"s":"red","x":282.4,"y":22},{"s":"red","x":282.7,"y":26},{"s":"red","x":282.9,"y":30},{"s":"red","x":283.1,"y":36},{"s":"red","x":283.3,"y":45},{"s":"red","x":283.5,"y":60},{"s":"red","x":283.67,"y":82.7},{"s":"red","x":283.9,"y":104},{"s":"red","x":284.14,"y":126},{"s":"red","x":284.4,"y":148},{"s":"red","x":284.65,"y":160},{"s":"red","x":284.9,"y":164.4},{"s":"red","x":285.15,"y":160},{"s":"red","x":285.35,"y":148},{"s":"red","x":285.54,"y":126},{"s":"red","x":285.75,"y":104},{"s":"red","x":286.0,"y":84},{"s":"red","x":286.2,"y":68},{"s":"red","x":286.45,"y":52},{"s":"red","x":286.7,"y":44},{"s":"red","x":286.9,"y":40},{"s":"red","x":287.1,"y":33},{"s":"red","x":287.4,"y":26},{"s":"red","x":287.7,"y":21.5},{"s":"red","x":287.9,"y":20},{"s":"red","x":288.2,"y":20.5},{"s":"red","x":288.5,"y":23},{"s":"red","x":288.8,"y":28},{"s":"red","x":289.1,"y":33},{"s":"red","x":289.4,"y":36.5},{"s":"red","x":289.55,"y":37},{"s":"red","x":289.8,"y":34},{"s":"red","x":290.1,"y":27},{"s":"red","x":290.4,"y":22},{"s":"red","x":290.7,"y":19.5},{"s":"red","x":291.2,"y":18.5},{"s":"red","x":292,"y":18.5},{"s":"red","x":293,"y":19},{"s":"red","x":294,"y":19.5},{"s":"red","x":295.7,"y":20}
],
"txt": [
{"p":"a","k":"tag","x":16.9,"y":164,"t":"(a)"},
{"p":"b","k":"tag","x":775.96,"y":157.6,"t":"(b)"},
{"p":"c","k":"tag","x":53.43,"y":175,"t":"(c)"},
{"p":"d","k":"tag","x":279.36,"y":160.2,"t":"(d)"},
{"p":"b","k":"head","x":806.05,"y":158.8,"t":"Co 2p"},
{"p":"c","k":"head","x":66.51,"y":156.7,"t":"Se 3d"},
{"p":"d","k":"head","x":293.0,"y":158.5,"t":"C 1s"},
{"p":"a","k":"pk","x":33.2,"y":169,"t":"(101)"},
{"p":"a","k":"pk","x":44.8,"y":142,"t":"(102)"},
{"p":"a","k":"pk","x":50.4,"y":125,"t":"(110)"},
{"p":"a","k":"pk","x":60.1,"y":99,"t":"(103)"},
{"p":"a","k":"pk","x":62.3,"y":103,"t":"(201)"},
{"p":"a","k":"pk","x":70.0,"y":103,"t":"(202)"},
{"p":"a","k":"leg","x":10.7,"y":100,"t":"Co"},
{"p":"a","k":"leg","x":17.75,"y":100,"t":"Se@CNWs"},
{"p":"a","k":"leg","x":11.97,"y":36,"t":"Co"},
{"p":"a","k":"leg","x":19.0,"y":36,"t":"Se NWs"},
{"p":"a","k":"legsub","x":14.37,"y":96.5,"t":"0.85"},
{"p":"a","k":"legsub","x":15.63,"y":32.5,"t":"0.85"},
{"p":"b","k":"lbl","x":784.95,"y":158.5,"t":"Co³⁺ 2p3/2"},
{"p":"b","k":"lbl","x":787.4,"y":143.5,"t":"Co²⁺ 2p3/2"},
{"p":"b","k":"lbl","x":788.45,"y":126.8,"t":"Co³⁺ 2p1/2"},
{"p":"b","k":"lbl","x":799.6,"y":138.5,"t":"Co²⁺ 2p1/2"},
{"p":"b","k":"lblb","x":785.94,"y":91,"t":"sat"},
{"p":"b","k":"lblb","x":805.3,"y":141.6,"t":"sat"},
{"p":"d","k":"lblb","x":284.77,"y":173.4,"t":"C-C"},
{"p":"d","k":"lblb","x":287.87,"y":68.4,"t":"C-O"},
{"p":"d","k":"lblb","x":292.3,"y":65.2,"t":"COO"},
{"p":"d","k":"lblb","x":291.83,"y":50.2,"t":"H"},
{"p":"c","k":"clbl","x":56.1,"y":149.7,"t":"Se 3d"},
{"p":"c","k":"clbl","x":56.67,"y":121.7,"t":"Se 3d"},
{"p":"c","k":"clbl","x":59.8,"y":113.7,"t":"SeO"},
{"p":"c","k":"clbl","x":63.58,"y":106.7,"t":"Co 3p"},
{"p":"c","k":"csub","x":58.15,"y":146,"t":"5/2"},
{"p":"c","k":"csub","x":58.73,"y":118,"t":"3/2"},
{"p":"c","k":"csub","x":61.4,"y":109,"t":"x"}
],
"arr": [
{"p":"b","x":781.97,"y":154.3,"x2":779.1,"y2":122.6},{"p":"b","x":779.9,"y":125.8,"x2":779.1,"y2":122.6},{"p":"b","x":779.14,"y":128.6,"x2":779.1,"y2":122.6},
{"p":"b","x":783.89,"y":139.3,"x2":781.79,"y2":105.3},{"p":"b","x":782.5,"y":109.2,"x2":781.79,"y2":105.3},{"p":"b","x":781.68,"y":111.3,"x2":781.79,"y2":105.3},
{"p":"b","x":791.82,"y":120.3,"x2":792.86,"y2":112.6},{"p":"b","x":792.71,"y":117.5,"x2":792.86,"y2":112.6},{"p":"b","x":792.14,"y":114.5,"x2":792.86,"y2":112.6},
{"p":"b","x":797.0,"y":133.6,"x2":796.64,"y2":117.6},{"p":"b","x":797.09,"y":121.6,"x2":796.64,"y2":117.6},{"p":"b","x":796.37,"y":122.3,"x2":796.64,"y2":117.6},
{"p":"c","x":55.82,"y":141.7,"x2":54.79,"y2":126.4},{"p":"c","x":55.19,"y":128.3,"x2":54.79,"y2":126.4},{"p":"c","x":54.9,"y":132.2,"x2":54.79,"y2":126.4},
{"p":"c","x":56.49,"y":113,"x2":55.45,"y2":93},{"p":"c","x":55.82,"y":95.55,"x2":55.45,"y2":93},{"p":"c","x":55.51,"y":98.9,"x2":55.45,"y2":93},
{"p":"c","x":60.70,"y":105.7,"x2":60.28,"y2":91.7},{"p":"c","x":60.61,"y":95.5,"x2":60.28,"y2":91.7},{"p":"c","x":60.25,"y":97.7,"x2":60.28,"y2":91.7},
{"p":"c","x":63.47,"y":100.4,"x2":62.42,"y2":88.7},{"p":"c","x":62.84,"y":89.7,"x2":62.42,"y2":88.7},{"p":"c","x":62.6,"y":94.2,"x2":62.42,"y2":88.7},
{"p":"d","x":287.67,"y":61.7,"x2":287.03,"y2":35.7},{"p":"d","x":287.34,"y":39.8,"x2":287.03,"y2":35.7},{"p":"d","x":286.96,"y":41.6,"x2":287.03,"y2":35.7},
{"p":"d","x":291.6,"y":44.4,"x2":290.08,"y2":36},{"p":"d","x":290.5,"y":35.3,"x2":290.08,"y2":36},{"p":"d","x":290.36,"y":40.5,"x2":290.08,"y2":36}
]
},
"concat": [
{
 "width": 250, "height": 183,
 "encoding": {
  "x": {"field": "x", "type": "quantitative", "scale": {"domain": [10, 80], "nice": false, "zero": false}, "axis": {"title": "2theta/degree", "values": [20, 30, 40, 50, 60, 70, 80], "labelExpr": "datum.value % 20 == 0 ? datum.label : ''", "labelFontSize": 15, "tickSize": -4, "labelPadding": 7, "titlePadding": 2}},
  "y": {"field": "y", "type": "quantitative", "scale": {"domain": [0, 183], "nice": false, "zero": false}, "axis": {"title": "Intensity/a.u.", "labels": false, "ticks": false, "titlePadding": 3}}
 },
 "layer": [
  {"data": {"name": "a"}, "transform": [{"filter": "datum.s == 'k'"}], "mark": {"type": "line", "color": "#000000", "strokeWidth": 1.3, "clip": true}},
  {"data": {"name": "a"}, "transform": [{"filter": "datum.s == 'r'"}], "mark": {"type": "line", "color": "#f01818", "strokeWidth": 1.4, "clip": true}},
  {"data": {"name": "txt"}, "transform": [{"filter": "datum.p == 'a' && datum.k == 'tag'"}], "mark": {"type": "text", "fontSize": 22, "fontWeight": "bold"}, "encoding": {"text": {"field": "t"}}},
  {"data": {"name": "txt"}, "transform": [{"filter": "datum.p == 'a' && datum.k == 'pk'"}], "mark": {"type": "text", "fontSize": 7, "angle": 270}, "encoding": {"text": {"field": "t"}}},
  {"data": {"name": "txt"}, "transform": [{"filter": "datum.p == 'a' && datum.k == 'leg'"}], "mark": {"type": "text", "fontSize": 10, "align": "left"}, "encoding": {"text": {"field": "t"}}},
  {"data": {"name": "txt"}, "transform": [{"filter": "datum.p == 'a' && datum.k == 'legsub'"}], "mark": {"type": "text", "fontSize": 6, "align": "left"}, "encoding": {"text": {"field": "t"}}}
 ]
},
{
 "width": 250, "height": 182,
 "encoding": {
  "x": {"field": "x", "type": "quantitative", "scale": {"domain": [772.7, 811.6], "nice": false, "zero": false}, "axis": {"title": "Binding Energy/eV", "titleFontSize": 21, "values": [775, 780, 785, 790, 795, 800, 805, 810], "labelExpr": "datum.value % 10 == 0 ? datum.label : ''", "labelFontSize": 12, "tickSize": -4, "labelPadding": 9, "titlePadding": 2}},
  "y": {"field": "y", "type": "quantitative", "scale": {"domain": [0, 182], "nice": false, "zero": false}, "axis": {"title": "Intensity/a.u.", "labels": false, "ticks": false, "titlePadding": 3}}
 },
 "layer": [
  {"data": {"name": "b"}, "transform": [{"filter": "datum.s == 'raw'"}], "mark": {"type": "line", "color": "#b4c0c8", "strokeWidth": 1.2, "clip": true}},
  {"data": {"name": "b"}, "transform": [{"filter": "datum.s == 'bg'"}], "mark": {"type": "line", "color": "#6a3cc8", "strokeWidth": 1.4, "clip": true}},
  {"data": {"name": "b"}, "transform": [{"filter": "datum.s == 'blu'"}], "mark": {"type": "line", "color": "#2a2ad0", "strokeWidth": 1.3, "clip": true}},
  {"data": {"name": "b"}, "transform": [{"filter": "datum.s == 'brn'"}], "mark": {"type": "line", "color": "#8b1a2a", "strokeWidth": 1.3, "clip": true}},
  {"data": {"name": "b"}, "transform": [{"filter": "datum.s == 'grn'"}], "mark": {"type": "line", "color": "#22cc22", "strokeWidth": 1.3, "strokeDash": [3, 1], "clip": true}},
  {"data": {"name": "b"}, "transform": [{"filter": "datum.s == 'mag'"}], "mark": {"type": "line", "color": "#cc44ee", "strokeWidth": 1.4, "clip": true}},
  {"data": {"name": "b"}, "transform": [{"filter": "datum.s == 'vio'"}], "mark": {"type": "line", "color": "#9040e0", "strokeWidth": 1.4, "clip": true}},
  {"data": {"name": "b"}, "transform": [{"filter": "datum.s == 'red'"}], "mark": {"type": "line", "color": "#f02020", "strokeWidth": 2, "clip": true}},
  {"data": {"name": "arr"}, "transform": [{"filter": "datum.p == 'b'"}], "mark": {"type": "rule", "color": "#000", "strokeWidth": 1}, "encoding": {"x2": {"field": "x2"}, "y2": {"field": "y2"}}},
  {"data": {"name": "txt"}, "transform": [{"filter": "datum.p == 'b' && datum.k == 'tag'"}], "mark": {"type": "text", "fontSize": 22, "fontWeight": "bold"}, "encoding": {"text": {"field": "t"}}},
  {"data": {"name": "txt"}, "transform": [{"filter": "datum.p == 'b' && datum.k == 'head'"}], "mark": {"type": "text", "fontSize": 20, "fontWeight": "bold"}, "encoding": {"text": {"field": "t"}}},
  {"data": {"name": "txt"}, "transform": [{"filter": "datum.p == 'b' && datum.k == 'lbl'"}], "mark": {"type": "text", "fontSize": 9.5}, "encoding": {"text": {"field": "t"}}},
  {"data": {"name": "txt"}, "transform": [{"filter": "datum.p == 'b' && datum.k == 'lblb'"}], "mark": {"type": "text", "fontSize": 10, "fontWeight": "bold"}, "encoding": {"text": {"field": "t"}}}
 ]
},
{
 "width": 250, "height": 185,
 "encoding": {
  "x": {"field": "x", "type": "quantitative", "scale": {"domain": [52.33, 69.8], "nice": false, "zero": false}, "axis": {"title": "Binding Energy/eV", "titleFontSize": 21, "values": [52.5, 55, 57.5, 60, 62.5, 65, 67.5], "labelExpr": "datum.value % 5 == 0 ? datum.label : ''", "labelFontSize": 15, "tickSize": -4, "labelPadding": 7, "titlePadding": 2}},
  "y": {"field": "y", "type": "quantitative", "scale": {"domain": [0, 185], "nice": false, "zero": false}, "axis": {"title": "Intensity/a.u.", "labels": false, "ticks": false, "titlePadding": 3}}
 },
 "layer": [
  {"data": {"name": "c"}, "transform": [{"filter": "datum.s == 'raw'"}], "mark": {"type": "line", "color": "#b4c0c8", "strokeWidth": 1.5, "clip": true}},
  {"data": {"name": "c"}, "transform": [{"filter": "datum.s == 'grn'"}], "mark": {"type": "line", "color": "#22bb22", "strokeWidth": 1.5, "clip": true}},
  {"data": {"name": "c"}, "transform": [{"filter": "datum.s == 'bg'"}], "mark": {"type": "line", "color": "#6a3cc8", "strokeWidth": 1.5, "clip": true}},
  {"data": {"name": "c"}, "transform": [{"filter": "datum.s == 'co'"}], "mark": {"type": "line", "color": "#1c1cb0", "strokeWidth": 1.6, "clip": true}},
  {"data": {"name": "c"}, "transform": [{"filter": "datum.s == 'd32'"}], "mark": {"type": "line", "color": "#4a30d8", "strokeWidth": 1.5, "clip": true}},
  {"data": {"name": "c"}, "transform": [{"filter": "datum.s == 'mag'"}], "mark": {"type": "line", "color": "#c050ee", "strokeWidth": 1.5, "clip": true}},
  {"data": {"name": "c"}, "transform": [{"filter": "datum.s == 'red'"}], "mark": {"type": "line", "color": "#f02020", "strokeWidth": 2, "clip": true}},
  {"data": {"name": "arr"}, "transform": [{"filter": "datum.p == 'c'"}], "mark": {"type": "rule", "color": "#000", "strokeWidth": 1}, "encoding": {"x2": {"field": "x2"}, "y2": {"field": "y2"}}},
  {"data": {"name": "txt"}, "transform": [{"filter": "datum.p == 'c' && datum.k == 'tag'"}], "mark": {"type": "text", "fontSize": 22, "fontWeight": "bold"}, "encoding": {"text": {"field": "t"}}},
  {"data": {"name": "txt"}, "transform": [{"filter": "datum.p == 'c' && datum.k == 'head'"}], "mark": {"type": "text", "fontSize": 20, "fontWeight": "bold"}, "encoding": {"text": {"field": "t"}}},
  {"data": {"name": "txt"}, "transform": [{"filter": "datum.p == 'c' && datum.k == 'clbl'"}], "mark": {"type": "text", "fontSize": 11, "fontWeight": "bold", "align": "left"}, "encoding": {"text": {"field": "t"}}},
  {"data": {"name": "txt"}, "transform": [{"filter": "datum.p == 'c' && datum.k == 'csub'"}], "mark": {"type": "text", "fontSize": 7.5, "fontWeight": "bold", "align": "left"}, "encoding": {"text": {"field": "t"}}}
 ]
},
{
 "width": 250, "height": 185,
 "encoding": {
  "x": {"field": "x", "type": "quantitative", "scale": {"domain": [278.15, 295.7], "nice": false, "zero": false}, "axis": {"title": "Binding Energy/eV", "titleFontSize": 21, "values": [280, 282.5, 285, 287.5, 290, 292.5], "labelExpr": "datum.value % 5 == 0 ? datum.label : ''", "labelFontSize": 12, "tickSize": -4, "labelPadding": 9, "titlePadding": 2}},
  "y": {"field": "y", "type": "quantitative", "scale": {"domain": [0, 186], "nice": false, "zero": false}, "axis": {"title": "Intensity/a.u.", "labels": false, "ticks": false, "titlePadding": 3}}
 },
 "layer": [
  {"data": {"name": "d"}, "transform": [{"filter": "datum.s == 'raw'"}], "mark": {"type": "line", "color": "#b4c0c8", "strokeWidth": 1.5, "clip": true}},
  {"data": {"name": "d"}, "transform": [{"filter": "datum.s == 'grn'"}], "mark": {"type": "line", "color": "#22bb22", "strokeWidth": 1.4, "clip": true}},
  {"data": {"name": "d"}, "transform": [{"filter": "datum.s == 'mag'"}], "mark": {"type": "line", "color": "#c050ee", "strokeWidth": 1.6, "clip": true}},
  {"data": {"name": "d"}, "transform": [{"filter": "datum.s == 'red'"}], "mark": {"type": "line", "color": "#f02020", "strokeWidth": 1.6, "clip": true}},
  {"data": {"name": "d"}, "transform": [{"filter": "datum.s == 'blu'"}], "mark": {"type": "line", "color": "#1c1cb0", "strokeWidth": 1.8, "clip": true}},
  {"data": {"name": "arr"}, "transform": [{"filter": "datum.p == 'd'"}], "mark": {"type": "rule", "color": "#000", "strokeWidth": 1}, "encoding": {"x2": {"field": "x2"}, "y2": {"field": "y2"}}},
  {"data": {"name": "txt"}, "transform": [{"filter": "datum.p == 'd' && datum.k == 'tag'"}], "mark": {"type": "text", "fontSize": 22, "fontWeight": "bold"}, "encoding": {"text": {"field": "t"}}},
  {"data": {"name": "txt"}, "transform": [{"filter": "datum.p == 'd' && datum.k == 'head'"}], "mark": {"type": "text", "fontSize": 20, "fontWeight": "bold"}, "encoding": {"text": {"field": "t"}}},
  {"data": {"name": "txt"}, "transform": [{"filter": "datum.p == 'd' && datum.k == 'lblb'"}], "mark": {"type": "text", "fontSize": 10.5, "fontWeight": "bold"}, "encoding": {"text": {"field": "t"}}}
 ]
}
]
}
